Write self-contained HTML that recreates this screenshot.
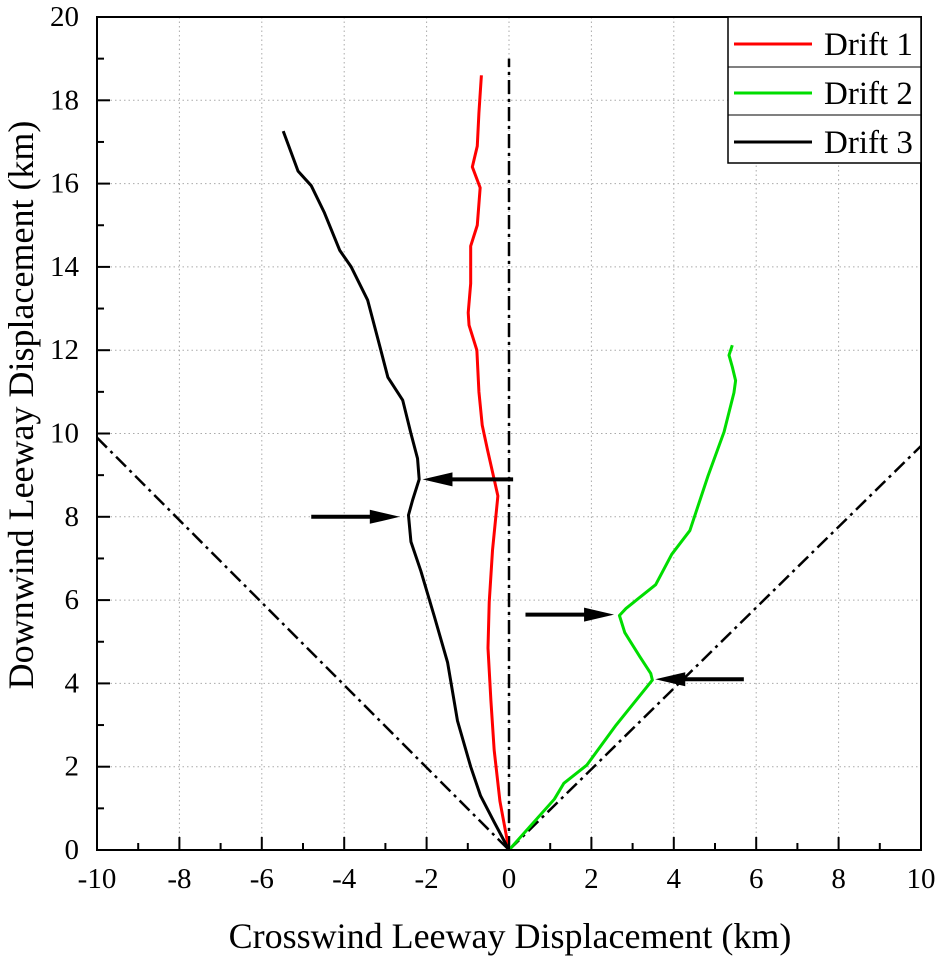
<!DOCTYPE html>
<html><head><meta charset="utf-8"><style>body{margin:0;background:#fff}svg{display:block}text{font-family:"Liberation Serif",serif;fill:#000}</style></head>
<body>
<svg id="chart" width="945" height="961" viewBox="0 0 945 961" xmlns="http://www.w3.org/2000/svg"></svg>
<script>
const xTicks=[-10,-8,-6,-4,-2,0,2,4,6,8,10];
const yTicks=[0,2,4,6,8,10,12,14,16,18,20];
const drift1X=[-0.67,-0.73,-0.77,-0.89,-0.70,-0.77,-0.93,-0.93,-0.99,-0.97,-0.78,-0.73,-0.65,-0.52,-0.36,-0.27,-0.40,-0.48,-0.51,-0.44,-0.36,-0.22,0];
const drift1Y=[18.6,17.7,16.9,16.4,15.9,15.0,14.5,13.6,12.9,12.6,12.0,11.0,10.2,9.6,8.9,8.5,7.2,5.95,4.85,3.6,2.4,1.17,0];
const drift2X=[0,1.1,1.33,1.89,2.6,3.48,3.44,3.17,2.81,2.68,2.84,3.56,3.95,4.39,4.83,5.22,5.46,5.5,5.42,5.34,5.42];
const drift2Y=[0,1.22,1.6,2.04,3.0,4.08,4.24,4.65,5.22,5.63,5.8,6.37,7.1,7.67,8.98,10.04,10.98,11.27,11.6,11.88,12.12];
const drift3X=[-5.48,-5.12,-4.8,-4.48,-4.11,-3.83,-3.43,-3.19,-2.94,-2.58,-2.38,-2.22,-2.18,-2.34,-2.44,-2.38,-2.14,-1.81,-1.49,-1.25,-0.93,-0.69,-0.36,0];
const drift3Y=[17.26,16.3,15.95,15.3,14.4,14.0,13.2,12.3,11.35,10.8,10.0,9.4,8.9,8.4,8.04,7.4,6.7,5.6,4.5,3.1,2.0,1.3,0.67,0];
const arrowsFromX=[0.1,-4.8,0.4,5.7];
const arrowsToX=[-2.1,-2.65,2.55,3.55];
const arrowsY=[8.9,8.0,5.65,4.1];
const refX=[[-10,0],[0,0],[0,10]];
const refY=[[9.9,0],[0,19],[0,9.7]];
const seriesNames=["Drift 1","Drift 2","Drift 3"];
const seriesColors=["#ff0000","#00dd00","#000000"];

const L=97,R=921,T=17,B=850;
const sx=v=>L+(v+10)/20*(R-L);
const sy=v=>B-v/20*(B-T);
const svg=document.getElementById('chart');
const NS="http://www.w3.org/2000/svg";
function mk(tag,a,parent){const e=document.createElementNS(NS,tag);for(const k in a)e.setAttribute(k,a[k]);(parent||svg).appendChild(e);return e;}

xTicks.forEach(v=>{if(v>-10&&v<10){const g=mk('line',{x1:sx(v),x2:sx(v),y1:T,y2:B,stroke:'#aaa','stroke-dasharray':'1.5,3','stroke-width':1});

}});
yTicks.forEach(v=>{if(v>0&&v<20){const g=mk('line',{x1:L,x2:R,y1:sy(v),y2:sy(v),stroke:'#aaa','stroke-dasharray':'1.5,3','stroke-width':1});

}});

refX.forEach((xs,i)=>{const l=mk('line',{x1:sx(xs[0]),y1:sy(refY[i][0]),x2:sx(xs[1]),y2:sy(refY[i][1]),stroke:'#000','stroke-width':2.5,'stroke-dasharray':'14,5,3,5'});

});

[[drift1X,drift1Y],[drift2X,drift2Y],[drift3X,drift3Y]].forEach((s,i)=>{
const p=mk('polyline',{points:s[0].map((x,j)=>sx(x)+','+sy(s[1][j])).join(' '),fill:'none',stroke:seriesColors[i],'stroke-width':3,'stroke-linejoin':'round'});

});

arrowsY.forEach((y,i)=>{const g=mk('g',{});


const x1=sx(arrowsFromX[i]),x2=sx(arrowsToX[i]),py=sy(y),d=x2>x1?1:-1;
mk('line',{x1:x1,y1:py,x2:x2-d*26,y2:py,stroke:'#000','stroke-width':4},g);
mk('polygon',{points:`${x2},${py} ${x2-d*30},${py-7} ${x2-d*30},${py+7}`,fill:'#000'},g);});

const f=mk('rect',{x:L,y:T,width:R-L,height:B-T,fill:'none',stroke:'#000','stroke-width':2});


for(let v=-10;v<=10;v++){const len=v%2===0?13:7;
mk('line',{x1:sx(v),x2:sx(v),y1:B,y2:B-len,stroke:'#000','stroke-width':2});}
for(let v=0;v<=20;v++){const len=v%2===0?13:7;
mk('line',{x1:L,x2:L+len,y1:sy(v),y2:sy(v),stroke:'#000','stroke-width':2});}
xTicks.forEach(v=>{const t=mk('text',{x:sx(v),y:888,'text-anchor':'middle','font-size':29});t.textContent=v;

});
yTicks.forEach(v=>{const t=mk('text',{x:L-18,y:sy(v)+9,'text-anchor':'end','font-size':29});t.textContent=v;

});
const xt=mk('text',{x:510,y:948,'text-anchor':'middle','font-size':36});xt.textContent='Crosswind Leeway Displacement (km)';


const yt=mk('text',{x:0,y:0,'text-anchor':'middle','font-size':36,transform:'translate(33,405) rotate(-90)'});yt.textContent='Downwind Leeway Displacement (km)';



const lg=mk('g',{});


mk('rect',{x:728,y:17,width:193,height:146,fill:'#fff',stroke:'#000','stroke-width':1.5},lg);
mk('line',{x1:728,x2:921,y1:67,y2:67,stroke:'#000','stroke-width':1},lg);
mk('line',{x1:728,x2:921,y1:115,y2:115,stroke:'#000','stroke-width':1},lg);
seriesNames.forEach((n,i)=>{const y=44+i*49;const e=mk('g',{},lg);


mk('line',{x1:734,x2:812,y1:y,y2:y,stroke:seriesColors[i],'stroke-width':3},e);
const t=mk('text',{x:824,y:y+11,'font-size':33},e);t.textContent=n;});
</script>
</body></html>
